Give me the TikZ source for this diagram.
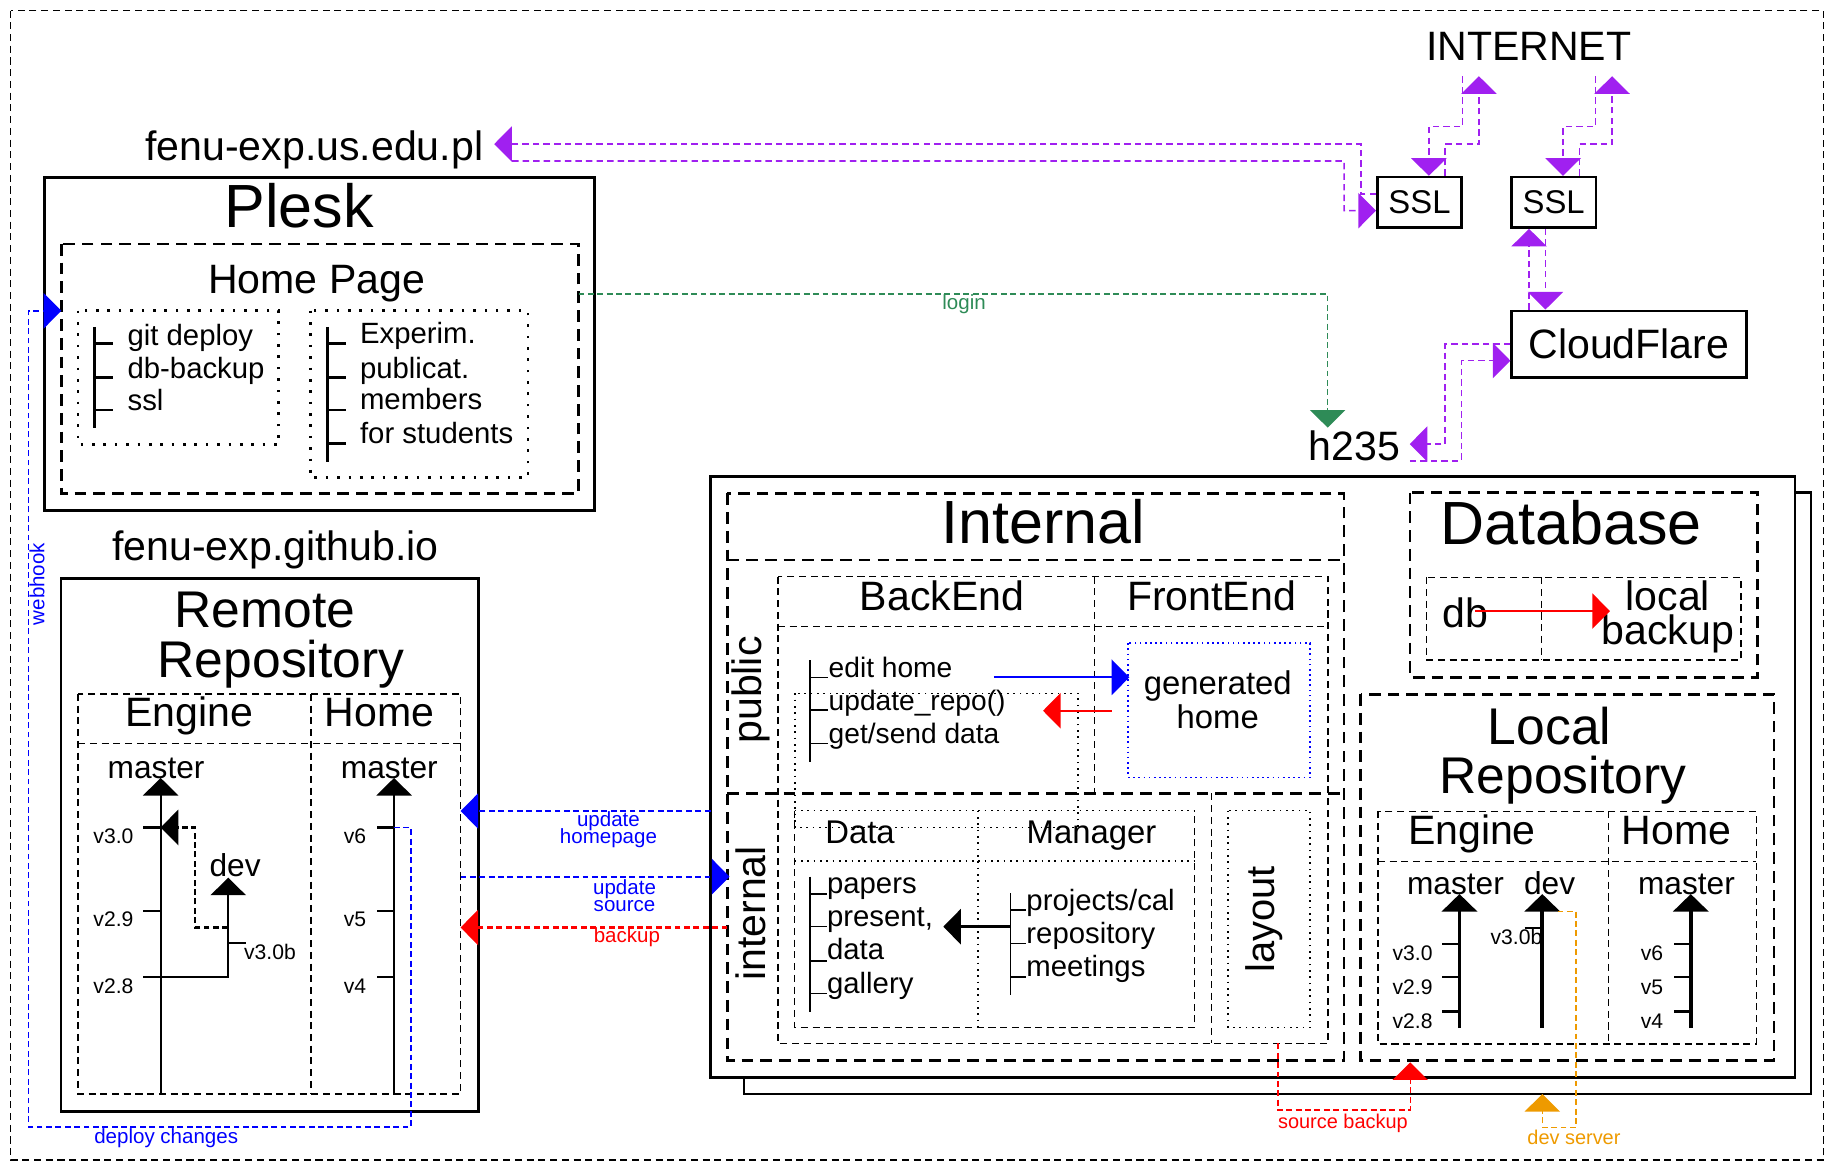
\documentclass[tikz,border=0pt]{standalone}
\usepackage{fontspec}
\setmainfont{Liberation Sans}
\usepackage{tikz}
\usetikzlibrary{arrows.meta, calc}
\definecolor{netpurple}{RGB}{160, 32, 240}
\definecolor{logingreen}{RGB}{46, 139, 87}
\definecolor{devorange}{RGB}{238, 154, 0}
\newcommand{\fsz}[1]{\fontsize{#1}{#1}\selectfont}

\tikzset{
  frame/.style={line width=1pt, dash pattern=on 6pt off 4pt},
  solidbox/.style={line width=2.2pt},
  bigdash/.style={line width=2.4pt, dash pattern=on 10pt off 6pt},
  thindash/.style={line width=1.1pt, dash pattern=on 6pt off 4pt},
  dotbox/.style={line width=2.2pt, dash pattern=on 2.2pt off 7.5pt},
  smalldot/.style={line width=1.4pt, dash pattern=on 1.4pt off 4pt},
  lbl/.style={inner sep=0pt, anchor=base},
  item/.style={inner sep=0pt, anchor=base west},
  netlink/.style={netpurple, line width=1.4pt, dash pattern=on 5.5pt off 3.5pt, ->},
  bluelink/.style={blue, line width=1.2pt, dash pattern=on 5pt off 3pt, ->},
  redlink/.style={red, line width=2pt, dash pattern=on 5pt off 3pt, ->},
  branch/.style={line width=1.8pt, ->},
  localbranch/.style={line width=3.2pt, ->}
}

\begin{document}
\begin{tikzpicture}[x=1pt, y=-1pt, >={Triangle[width=30pt,length=15pt]}]
  \useasboundingbox (0,0) rectangle (1568,999);
  \draw[frame] (9,9) rectangle (1555,989);

  % Plesk
  \node[lbl, font=\fsz{35}] (usedu) at (268,137) {fenu-exp.us.edu.pl};
  \draw[solidbox] (37.8,151.5) rectangle (506.7,435.5);
  \node[lbl, font=\fsz{52}] (plesk) at (255,194) {Plesk};
  \draw[bigdash] (52.3,208) rectangle (493.3,420.7);
  \node[lbl, font=\fsz{35}] (homepage) at (270,250) {Home Page};
  \draw[dotbox] (66.4,264.9) rectangle (237.7,378.9);
  \draw[dotbox] (264.7,264.9) rectangle (450.1,407);
  \draw[line width=2.4pt] (80.9,278.6) -- (80.9,365.3);
  \foreach \y in {292.8,322,349.6}
    \draw[line width=2.4pt] (80.9,\y) -- (96.1,\y);
  \node[item, font=\fsz{25}] (gitdeploy) at (108.6,295) {git deploy};
  \node[item, font=\fsz{25}] (dbbackup) at (108.6,322.5) {db-backup};
  \node[item, font=\fsz{25}] (sslitem) at (108.6,349.6) {ssl};
  \draw[line width=2.4pt] (279.2,278.6) -- (279.2,393.7);
  \foreach \y in {292.8,322,349.6,378}
    \draw[line width=2.4pt] (279.2,\y) -- (295,\y);
  \node[item, font=\fsz{25}] (experim) at (306.8,293) {Experim.};
  \node[item, font=\fsz{25}] (publicat) at (306.8,322.5) {publicat.};
  \node[item, font=\fsz{25}] (members) at (306.8,349) {members};
  \node[item, font=\fsz{25}] (students) at (306.8,378) {for students};

  % Remote repository
  \node[lbl, font=\fsz{35}] (github) at (235,478) {fenu-exp.github.io};
  \draw[solidbox] (52.1,493) rectangle (408,947.8);
  \node[lbl, font=\fsz{44}] (remote) at (226,535) {Remote};
  \node[lbl, font=\fsz{44}] (remoterepo) at (239.6,577.4) {Repository};
  \draw[thindash] (66.6,591.6) rectangle (392.7,932.7);
  \draw[thindash] (66.6,634.1) -- (392.7,634.1);
  \draw[thindash] (265.1,591.6) -- (265.1,932.7);
  \node[lbl, font=\fsz{35}] (rengine) at (161.3,619.6) {Engine};
  \node[lbl, font=\fsz{35}] (rhome) at (323.4,619.6) {Home};
  \node[lbl, font=\fsz{27}] (rmaster) at (133.1,663.4) {master};
  \node[lbl, font=\fsz{27}] (rmasterh) at (332,663.4) {master};
  \node[lbl, font=\fsz{27}] (rdev) at (200.5,747.6) {dev};
  \draw[branch] (137,932.7) -- (137,663.3);
  \draw[line width=1.8pt] (122.2,705.5) -- (137,705.5);
  \draw[line width=1.8pt] (122.2,776.4) -- (137,776.4);
  \draw[branch] (122.2,833.1) -- (194.6,833.1) -- (194.6,748.3);
  \draw[line width=1.8pt] (194.6,804.3) -- (209.5,804.3);
  \draw[line width=2pt, dash pattern=on 5pt off 3pt, ->] (194.6,790.8) -- (166.4,790.8) -- (166.4,705.5) -- (137,705.5);
  \node[lbl, font=\fsz{18}] (rv30) at (96.7,718.9) {v3.0};
  \node[lbl, font=\fsz{18}] (rv29) at (96.7,790.2) {v2.9};
  \node[lbl, font=\fsz{18}] (rv28) at (96.7,846.9) {v2.8};
  \node[lbl, font=\fsz{18}] (rv30b) at (230.2,818.5) {v3.0b};
  \draw[branch] (336,932.7) -- (336,663.3);
  \foreach \y in {705.5,776.4,833.1}
    \draw[line width=1.8pt] (321.8,\y) -- (336,\y);
  \node[lbl, font=\fsz{18}] (rv6) at (302.7,718.9) {v6};
  \node[lbl, font=\fsz{18}] (rv5) at (302.7,790.2) {v5};
  \node[lbl, font=\fsz{18}] (rv4) at (302.7,846.9) {v4};

  % webhook / deploy changes
  \coordinate (deployfrom) at (336,705.5);
  \coordinate (homein) at (52.3,265);
  \draw[bluelink] (deployfrom) -- (350.4,705.5) -- (350.4,960.9) -- (24.3,960.9) -- (24.3,265) -- (homein);
  \node[inner sep=0pt, rotate=90, blue, font=\fsz{17.5}] (webhook) at (31.5,498) {webhook};
  \node[lbl, blue, font=\fsz{17.5}] (deploy) at (141.7,975) {deploy changes};

  % server h235
  \draw[solidbox] (634.5,420) rectangle (1544,932.8);
  \draw[solidbox, fill=white] (605.8,406.4) rectangle (1530.5,918.5);

  % Internal
  \draw[bigdash] (620.2,420.6) rectangle (1145.9,904.4);
  \draw[bigdash] (620.2,477.5) -- (1145.9,477.5);
  \draw[bigdash] (620.2,676.4) -- (1145.9,676.4);
  \node[lbl, font=\fsz{52}] (internal) at (889.3,463.3) {Internal};
  \node[inner sep=0pt, rotate=90, font=\fsz{35}] (publiclbl) at (640,588.3) {public};
  \node[inner sep=0pt, rotate=90, font=\fsz{35}] (internallbl) at (640,778.8) {internal};
  \draw[thindash] (663.3,491.7) rectangle (1132.3,889.6);
  \draw[thindash] (663.3,534.3) -- (1132.3,534.3);
  \draw[thindash] (933.2,491.7) -- (933.2,676.4);
  \draw[thindash] (1033,676.4) -- (1033,889.6);
  \node[lbl, font=\fsz{35}] (backend) at (803.2,520.1) {BackEnd};
  \node[lbl, font=\fsz{35}] (frontend) at (1033,520.1) {FrontEnd};
  \draw[blue, line width=1.4pt, dash pattern=on 1.4pt off 3pt] (961.8,548.5) rectangle (1117.2,662.8);
  \node[inner sep=0pt, align=center, font={\fontsize{28}{29}\selectfont}] (generated) at (1038.3,597) {generated\\home};
  \draw[smalldot] (677.6,591.2) rectangle (919.2,705.4);
  \draw[line width=1.4pt] (690.9,562.8) -- (690.9,649.4);
  \foreach \y in {577.5,605.4,633.8}
    \draw[line width=1.4pt] (690.9,\y) -- (706.4,\y);
  \node[item, font=\fsz{24}] (edithome) at (706.4,577.5) {edit home};
  \node[item, font=\fsz{24}] (updrepo) at (706.4,605.4) {update\_repo()};
  \node[item, font=\fsz{24}] (getsend) at (706.4,633.8) {get/send data};
  \draw[blue, line width=2pt, ->] (847.4,577.5) -- (962.9,577.5);
  \draw[red, line width=1.6pt, ->] (947.8,606) -- (889.3,606);

  % Data / Manager
  \draw[smalldot] (677.6,691.2) -- (1018.5,691.2);
  \draw[thindash] (677.6,691.2) -- (677.6,876) -- (1018.5,876) -- (1018.5,691.2);
  \draw[smalldot] (677.6,733.9) -- (1018.5,733.9);
  \draw[smalldot] (833.7,691.2) -- (833.7,876);
  \node[lbl, font=\fsz{28}] (data) at (733.3,719) {Data};
  \node[lbl, font=\fsz{28}] (manager) at (930.6,719) {Manager};
  \draw[line width=1.4pt] (690.9,747.5) -- (690.9,862.6);
  \foreach \y in {762.3,790.1,819.1,847}
    \draw[line width=1.4pt] (690.9,\y) -- (705,\y);
  \node[item, font=\fsz{25}] (papers) at (705,761.7) {papers};
  \node[item, font=\fsz{25}] (present) at (705,790.1) {present,};
  \node[item, font=\fsz{25}] (dataitem) at (705,818.5) {data};
  \node[item, font=\fsz{25}] (gallery) at (705,847) {gallery};
  \draw[line width=1.4pt] (861.7,761.7) -- (861.7,848.4);
  \foreach \y in {775.9,804.3,832.8}
    \draw[line width=1.4pt] (861.7,\y) -- (875,\y);
  \node[item, font=\fsz{25}] (projects) at (875,775.9) {projects/cal};
  \node[item, font=\fsz{25}] (repository) at (875,804.3) {repository};
  \node[item, font=\fsz{25}] (meetings) at (875,832.7) {meetings};
  \draw[line width=2.4pt, ->] (861.7,790.1) -- (804.3,790.1);
  \draw[smalldot] (1047.2,691.2) rectangle (1117.2,876);
  \node[inner sep=0pt, rotate=90, font=\fsz{34}] (layout) at (1077.7,784) {layout};

  % Database
  \draw[bigdash] (1202.2,420) rectangle (1498.5,577.5);
  \node[lbl, font=\fsz{52}] (database) at (1339.5,464.4) {Database};
  \draw[thindash] (1216.5,492.2) rectangle (1484.4,562.8);
  \draw[thindash] (1314.4,492.2) -- (1314.4,562.8);
  \node[lbl, font=\fsz{35}] (db) at (1249.4,534.8) {db};
  \node[inner sep=0pt, align=center, font={\fontsize{35}{28.3}\selectfont}] (localbackup) at (1422,526) {local\\backup};
  \draw[red, line width=1.2pt, ->] (1257.8,521) -- (1372.7,521);

  % Local repository
  \draw[bigdash] (1160,591.8) rectangle (1512.5,903.9);
  \node[lbl, font=\fsz{44}] (localtitle) at (1321.2,634.4) {Local};
  \node[lbl, font=\fsz{44}] (localrepo) at (1332.5,676.9) {Repository};
  \draw[thindash] (1174.8,691.8) rectangle (1497.6,890.2);
  \draw[thindash] (1174.8,734.5) -- (1497.6,734.5);
  \draw[thindash] (1371.3,691.8) -- (1371.3,890.2);
  \node[lbl, font=\fsz{35}] (lengine) at (1255,719.7) {Engine};
  \node[lbl, font=\fsz{35}] (lhome) at (1429.5,719.7) {Home};
  \node[lbl, font=\fsz{27}] (lmaster) at (1241,762.3) {master};
  \node[lbl, font=\fsz{27}] (ldev) at (1321.2,762.3) {dev};
  \node[lbl, font=\fsz{27}] (lmasterh) at (1437.9,762.3) {master};
  \draw[localbranch] (1244.4,876.5) -- (1244.4,762.3);
  \foreach \y in {805,833,862.4}
    \draw[line width=1.8pt] (1229.7,\y) -- (1244.4,\y);
  \node[lbl, font=\fsz{18}] (lv30) at (1204.4,819.3) {v3.0};
  \node[lbl, font=\fsz{18}] (lv29) at (1204.4,847.6) {v2.9};
  \node[lbl, font=\fsz{18}] (lv28) at (1204.4,876.6) {v2.8};
  \draw[localbranch] (1315,876.5) -- (1315,762.3);
  \draw[line width=1.8pt] (1300,791.3) -- (1315,791.3);
  \node[lbl, font=\fsz{18}] (lv30b) at (1293,805) {v3.0b};
  \draw[localbranch] (1441.6,876.5) -- (1441.6,762.3);
  \foreach \y in {805,833,862.4}
    \draw[line width=1.8pt] (1427.3,\y) -- (1441.6,\y);
  \node[lbl, font=\fsz{18}] (lv6) at (1408.5,819.3) {v6};
  \node[lbl, font=\fsz{18}] (lv5) at (1408.5,847.6) {v5};
  \node[lbl, font=\fsz{18}] (lv4) at (1408.5,876.6) {v4};

  % backups and dev server
  \draw[red, line width=1.2pt, dash pattern=on 5pt off 3pt, ->] (1089.6,889.6) -- (1089.6,946.5) -- (1202.4,946.5) -- (1202.4,905.8);
  \node[lbl, red, font=\fsz{17}] (srcbackup) at (1145,962) {source backup};
  \draw[devorange, line width=1.2pt, dash pattern=on 5pt off 3pt, ->] (1328,777) -- (1343.7,777) -- (1343.7,961.2) -- (1315,961.2) -- (1315,932.8);
  \node[lbl, devorange, font=\fsz{17}] (devserver) at (1342,975.5) {dev server};

  % links between repositories
  \draw[bluelink] (605.8,691.5) -- (392.7,691.5);
  \node[inner sep=0pt, align=center, blue, font={\fontsize{17.5}{14.5}\selectfont\lineskiplimit=-20pt}] (updhp) at (518.8,707.5) {update\\homepage};
  \draw[bluelink, line width=2pt] (392.7,747.5) -- (622,747.5);
  \node[inner sep=0pt, align=center, blue, font={\fontsize{17.5}{14.5}\selectfont\lineskiplimit=-20pt}] (updsrc) at (532.5,763.5) {update\\source};
  \draw[redlink] (620.2,790.8) -- (392.7,790.8);
  \node[lbl, red, font=\fsz{17.5}] (backuplbl) at (534.5,804) {backup};

  % Internet side
  \node[lbl, font=\fsz{35}] (internet) at (1303.4,52) {INTERNET};
  \node[draw, solidbox, minimum width=72pt, minimum height=43pt, inner sep=0pt, font=\fsz{28}] (ssl1) at (1210.3,172.5) {SSL};
  \node[draw, solidbox, minimum width=72pt, minimum height=43pt, inner sep=0pt, font=\fsz{28}] (ssl2) at (1324.7,172.5) {SSL};
  \node[draw, solidbox, minimum width=200pt, minimum height=57pt, inner sep=0pt, font=\fsz{35}] (cloud) at (1388.9,293.5) {CloudFlare};
  \node[lbl, font=\fsz{35}] (h235) at (1155,392.3) {h235};
  \coordinate (net1up) at (1261,65);
  \coordinate (net1dn) at (1247,65);
  \coordinate (net2up) at (1374.5,65);
  \coordinate (net2dn) at (1360.4,65);
  \coordinate (fenuin) at (421.4,122.8);
  \coordinate (fenuout) at (436.6,137.3);
  \coordinate (h235in) at (1202,378.6);
  \coordinate (h235out) at (1202,393);
  \coordinate (h235top) at (1132,364.6);
  \coordinate (homeout) at (493.3,250.7);

  \draw[netlink] ([yshift=7pt]ssl1.west) -| (1160.6,122.8) -- (fenuin);
  \draw[netlink] (fenuout) -| (1146,179.6) -- ([yshift=-7pt]ssl1.west);
  \draw[netlink] ([xshift=22pt]ssl1.north) |- (1261,123) -- (net1up);
  \draw[netlink] (net1dn) |- (1218.3,108) -- ([xshift=8pt]ssl1.north);
  \draw[netlink] ([xshift=22pt]ssl2.north) |- (1374.5,123) -- (net2up);
  \draw[netlink] (net2dn) |- (1332.7,108) -- ([xshift=8pt]ssl2.north);
  \draw[netlink] ([xshift=-21pt]ssl2.south |- cloud.north) -- ([xshift=-21pt]ssl2.south);
  \draw[netlink] ([xshift=-7pt]ssl2.south) -- ([xshift=-7pt]ssl2.south |- cloud.north);
  \draw[netlink] (cloud.west) -| (1232,378.6) -- (h235in);
  \draw[netlink] (h235out) -| (1246,307.5) -- ([yshift=-14pt]cloud.west);

  % login
  \draw[logingreen, line width=1.2pt, dash pattern=on 5pt off 3pt, ->] (homeout) -| (h235top);
  \node[lbl, logingreen, font=\fsz{17.5}] (login) at (822,264) {login};
\end{tikzpicture}
\end{document}
